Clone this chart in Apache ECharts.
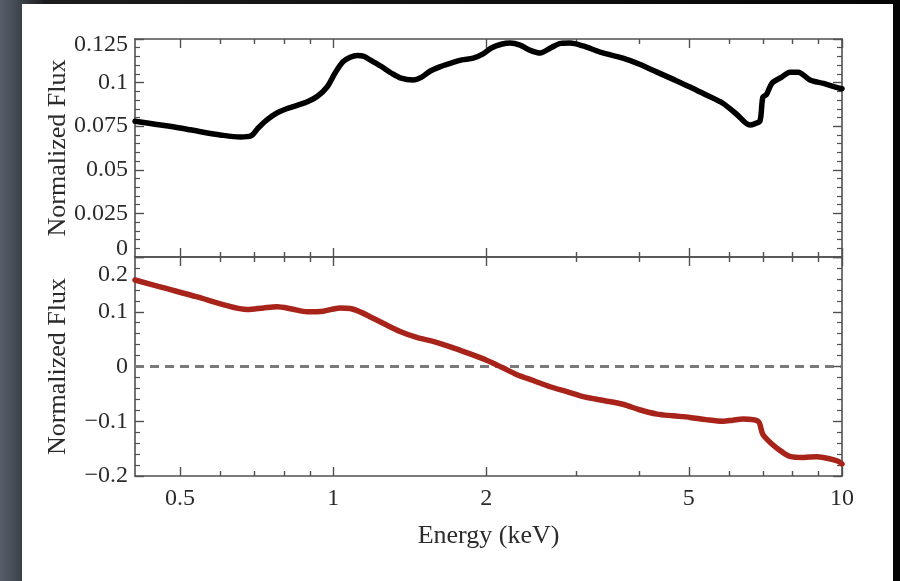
<!DOCTYPE html>
<html><head><meta charset="utf-8">
<script src="https://cdn.jsdelivr.net/npm/echarts@6/dist/echarts.min.js"></script>
<style>html,body{margin:0;padding:0;background:#111}#c{width:900px;height:581px}</style>
</head><body><div id="c"></div>
<script>
// ---- data ----
const energyTop = [0.408,0.45,0.50,0.55,0.60,0.657,0.69,0.71,0.74,0.776,0.81,0.85,0.89,0.93,0.973,1.009,1.046,1.08,1.115,1.15,1.182,1.24,1.30,1.36,1.436,1.49,1.55,1.62,1.698,1.79,1.884,1.971,2.05,2.14,2.227,2.33,2.44,2.551,2.68,2.80,2.922,3.1,3.346,3.712,4.0,4.33,4.65,5.028,5.4,5.84,6.2,6.59,6.75,6.90,6.99,7.1,7.29,7.6,7.90,8.2,8.65,9.2,9.83,10];
const fluxTop = [0.0778,0.0760,0.0740,0.0718,0.0700,0.0688,0.0695,0.0735,0.0785,0.0826,0.0850,0.0870,0.0890,0.0920,0.0975,0.1055,0.1120,0.1145,0.1155,0.1150,0.1130,0.1095,0.1055,0.1025,0.1015,0.1030,0.1065,0.1090,0.1110,0.1130,0.1140,0.1165,0.1200,0.1220,0.1227,0.1215,0.1185,0.1170,0.1200,0.1225,0.1227,0.1210,0.1175,0.1140,0.1105,0.1060,0.1020,0.0975,0.0930,0.0880,0.0820,0.0757,0.0765,0.0780,0.0917,0.0930,0.0998,0.1030,0.1060,0.1060,0.1015,0.0995,0.0970,0.0965];
const energyBottom = [0.408,0.463,0.541,0.608,0.678,0.73,0.776,0.83,0.889,0.956,1.032,1.08,1.115,1.182,1.26,1.354,1.46,1.572,1.70,1.834,2.007,2.15,2.298,2.48,2.669,2.88,3.099,3.4,3.712,4.0,4.33,4.65,5.028,5.4,5.84,6.1,6.39,6.84,6.99,7.29,7.6,7.90,8.4,8.93,9.4,9.83,10];
const fluxBottom = [0.158,0.144,0.127,0.113,0.104,0.107,0.109,0.105,0.100,0.101,0.107,0.106,0.102,0.091,0.078,0.064,0.053,0.046,0.036,0.025,0.011,-0.002,-0.015,-0.026,-0.037,-0.046,-0.055,-0.062,-0.069,-0.079,-0.087,-0.090,-0.093,-0.097,-0.100,-0.098,-0.096,-0.100,-0.124,-0.142,-0.155,-0.164,-0.166,-0.165,-0.168,-0.173,-0.178];
const xMajorTicks = [0.5,1,2,5,10];
const xMinorTicks = [0.6,0.7,0.8,0.9,3,4,6,7,8,9];
const xLabel = 'Energy (keV)';
const yLabel = 'Normalized Flux';

// ---- chart ----
const FONT = 'Liberation Serif';
const TXT = '#2b2b2b';
const AX = '#505050';
const chart = echarts.init(document.getElementById('c'), null, {renderer:'canvas'});

function xAx(grid, pos, ticks, len, showLine, showLabel){
  return {
    type:'log', logBase:10, min:0.408, max:10, gridIndex:grid, position:pos,
    axisLine:{show:showLine, onZero:false, lineStyle:{color:AX, width:1.6}},
    axisTick:{show:true, inside:true, length:len, customValues:ticks, lineStyle:{color:AX, width:1.4}},
    axisLabel:{show:showLabel, customValues:xMajorTicks, fontFamily:FONT, fontSize:24, color:TXT, margin:11},
    splitLine:{show:false}, minorTick:{show:false},
    name: showLabel ? xLabel : '', nameLocation:'middle', nameGap:47,
    nameTextStyle:{fontFamily:FONT, fontSize:26, color:TXT}
  };
}
function fmt(v){
  let s = String(Math.round(v*1000)/1000);
  return s.replace('-', '\u2212');
}
function yAx(grid, pos, min, max, interval, showLabel, formatter){
  return {
    type:'value', gridIndex:grid, position:pos, min:min, max:max, interval:interval,
    axisLine:{show:true, onZero:false, lineStyle:{color:AX, width:1.6}},
    axisTick:{show:true, inside:true, length:9, lineStyle:{color:AX, width:1.4}},
    minorTick:{show:true, splitNumber:5, length:5, lineStyle:{color:AX, width:1.2}},
    axisLabel:{show:showLabel, fontFamily:FONT, fontSize:24, color:TXT, margin:7, showMinLabel:true, showMaxLabel:true,
      formatter:formatter,
      rich:{
        up:{fontFamily:FONT, fontSize:24, color:TXT, padding:[0,0,16,0]},
        dn:{fontFamily:FONT, fontSize:24, color:TXT, padding:[12,0,0,0]},
        dn2:{fontFamily:FONT, fontSize:24, color:TXT, padding:[36,0,0,0]}
      }},
    splitLine:{show:false},
    name: showLabel ? yLabel : '', nameLocation:'middle', nameGap:64, nameMoveOverlap:false,
    nameTextStyle:{fontFamily:FONT, fontSize:26, color:TXT}
  };
}

const option = {
  backgroundColor:{type:'linear', x:0, y:0, x2:1, y2:0, colorStops:[
    {offset:0, color:'#56606b'}, {offset:0.025, color:'#3a4047'}, {offset:0.05, color:'#1c1c1c'}, {offset:1, color:'#050505'}]},
  animation:false,
  graphic:[{type:'rect', shape:{x:22, y:4, width:871, height:590}, style:{fill:'#ffffff'}, z:-10}],
  grid:[
    {left:135, top:39, width:707, height:218},
    {left:135, top:257, width:707, height:219}
  ],
  xAxis:[
    xAx(0,'bottom',xMajorTicks,9,true,false),
    xAx(0,'bottom',xMinorTicks,5,false,false),
    xAx(0,'top',xMajorTicks,9,true,false),
    xAx(0,'top',xMinorTicks,5,false,false),
    xAx(1,'bottom',xMajorTicks,9,true,true),
    xAx(1,'bottom',xMinorTicks,5,false,false),
    xAx(1,'top',xMajorTicks,9,true,false),
    xAx(1,'top',xMinorTicks,5,false,false)
  ],
  yAxis:[
    yAx(0,'left',0,0.125,0.025,true,function(v){
      const s = fmt(v);
      if (Math.abs(v) < 1e-9) return '{up|' + s + '}';
      if (Math.abs(v-0.125) < 1e-9) return '{dn|' + s + '}';
      return s;
    }),
    yAx(0,'right',0,0.125,0.025,false,null),
    yAx(1,'left',-0.2,0.2,0.1,true,function(v){
      const s = fmt(v);
      if (Math.abs(v-0.2) < 1e-9) return '{dn2|' + s + '}';
      return s;
    }),
    yAx(1,'right',-0.2,0.2,0.1,false,null)
  ],
  series:[
    {type:'line', xAxisIndex:0, yAxisIndex:0, data:energyTop.map((e,i)=>[e,fluxTop[i]]),
      showSymbol:false, smooth:0.3, lineStyle:{color:'#000000', width:5.5, cap:'round', join:'round'}, z:5},
    {type:'line', xAxisIndex:4, yAxisIndex:2, data:energyBottom.map((e,i)=>[e,fluxBottom[i]]),
      showSymbol:false, smooth:0.3, lineStyle:{color:'#a8231a', width:5.5, cap:'round', join:'round'}, z:5,
      markLine:{silent:true, symbol:['none','none'], label:{show:false},
        lineStyle:{color:'#7a7a7a', width:2.8, type:[9,6]}, data:[{yAxis:0}]}}
  ]
};
chart.setOption(option);
</script></body></html>
